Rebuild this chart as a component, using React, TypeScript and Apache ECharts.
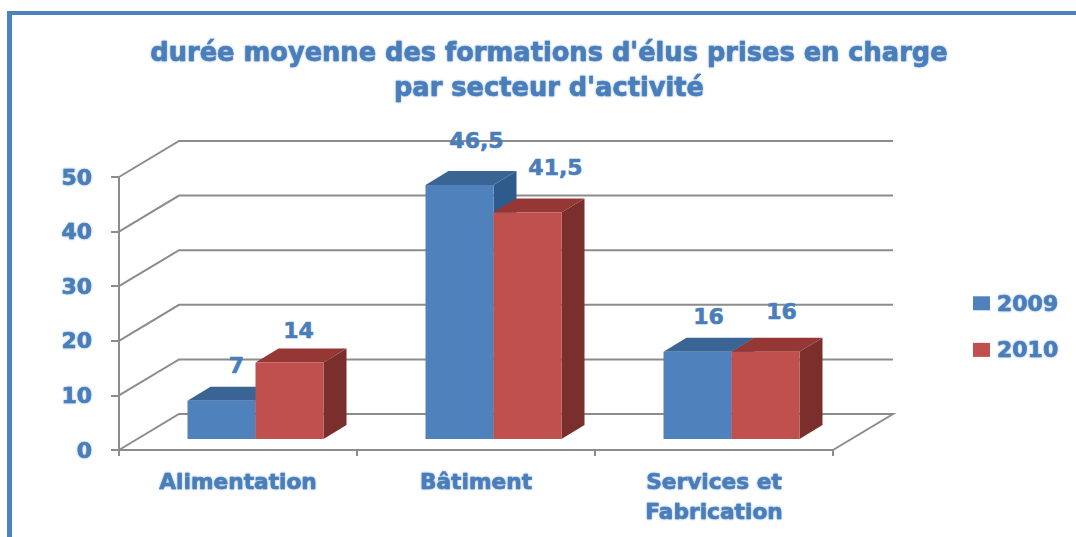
import React, { useEffect, useRef } from "react";
import * as echarts from "echarts";

const categories = ["Alimentation", "Bâtiment", "Services et\nFabrication"];
const yTicks = [0, 10, 20, 30, 40, 50];
const values2009 = [7, 46.5, 16];
const values2010 = [14, 41.5, 16];
const seriesNames = ["2009", "2010"];
const titleLines = "durée moyenne des formations d'élus prises en charge\npar secteur d'activité";

// nudges of the value labels, relative to the top of each bar
const labelNudge2009 = [[15, -35], [17, -45], [11, -35]];
const labelNudge2010 = [[9, -32], [28, -45], [16, -40]];

const BLUE_TEXT = "#4a7ebb";
const GREY = "#8c8c8c";
const FONT = "'DejaVu Sans', sans-serif";
const GRID = { left: 119, top: 177, width: 714, height: 273 };
const WALL = { dx: 60, dy: -36 };
const BAR = { width: 68, shiftX: 17.5, shiftY: -11, dx: 23, dy: -14 };
const textGlow = {
  textShadowColor: "rgba(74,126,187,0.6)",
  textShadowBlur: 2,
  textBorderColor: BLUE_TEXT,
  textBorderWidth: 0.6,
};

function wallSeries() {
  return {
    type: "custom",
    silent: true,
    z: 1,
    data: yTicks.map((v) => [0, v]),
    encode: { x: 0, y: 1 },
    renderItem: (params: any, api: any) => {
      const v = api.value(1);
      const y = api.coord([0, v])[1];
      const left = params.coordSys.x;
      const right = left + params.coordSys.width;
      const lineStyle = { stroke: GREY, lineWidth: 2, fill: "none" };
      const points =
        v === 0
          ? [[left, y], [left + WALL.dx, y + WALL.dy], [right + WALL.dx, y + WALL.dy], [right, y]]
          : [[left, y], [left + WALL.dx, y + WALL.dy], [right + WALL.dx, y + WALL.dy]];
      return { type: "polyline", shape: { points }, style: lineStyle, silent: true };
    },
  };
}

function barSeries(
  name: string,
  values: number[],
  nudges: number[][],
  side: number,
  front: string,
  top: string,
  right: string,
) {
  return {
    type: "custom",
    name,
    z: 3 + side,
    itemStyle: { color: front },
    data: values.map((v, i) => [i, v]),
    encode: { x: 0, y: 1 },
    renderItem: (_: any, api: any) => {
      const i = api.value(0);
      const v = api.value(1);
      const [cx, yTop] = api.coord([i, v]);
      const yBase = api.coord([i, 0])[1];
      const x0 = cx + BAR.shiftX + (side === 0 ? -BAR.width : 0);
      const x1 = x0 + BAR.width;
      const y0 = yTop + BAR.shiftY;
      const y1 = yBase + BAR.shiftY;
      const { dx, dy } = BAR;
      return {
        type: "group",
        children: [
          { type: "polygon", shape: { points: [[x1, y0], [x1 + dx, y0 + dy], [x1 + dx, y1 + dy], [x1, y1]] }, style: { fill: right } },
          { type: "polygon", shape: { points: [[x0, y0], [x0 + dx, y0 + dy], [x1 + dx, y0 + dy], [x1, y0]] }, style: { fill: top } },
          { type: "rect", shape: { x: x0, y: y0, width: BAR.width, height: y1 - y0 }, style: { fill: front } },
          {
            type: "text",
            z2: 50,
            x: (x0 + x1) / 2 + nudges[i][0],
            y: y0 + nudges[i][1],
            style: {
              text: String(v).replace(".", ","),
              fill: BLUE_TEXT,
              font: `bold 22px ${FONT}`,
              align: "center",
              verticalAlign: "middle",
              stroke: BLUE_TEXT,
              lineWidth: 0.6,
            },
          },
        ],
      };
    },
  };
}

export default function App() {
  const ref = useRef<HTMLDivElement>(null);
  useEffect(() => {
    document.body.style.margin = "0";
    const chart = echarts.init(ref.current!, undefined, { renderer: "svg" });
    const axisText = { color: BLUE_TEXT, fontFamily: FONT, fontWeight: "bold" as const, ...textGlow };
    chart.setOption({
      animation: false,
      backgroundColor: "#ffffff",
      title: {
        text: titleLines,
        left: 544,
        top: 29,
        textAlign: "center",
        textStyle: { ...axisText, fontSize: 25.7, lineHeight: 35 },
      },
      legend: {
        left: 968,
        top: 287,
        orient: "vertical",
        icon: "rect",
        itemWidth: 17,
        itemHeight: 14,
        itemGap: 24,
        data: seriesNames,
        textStyle: { ...axisText, fontSize: 22, padding: [0, 0, 0, 2] },
      },
      grid: GRID,
      xAxis: {
        type: "category",
        data: categories,
        axisLine: { lineStyle: { color: GREY, width: 2 } },
        axisTick: { show: true, length: 6, lineStyle: { color: GREY, width: 2 } },
        axisLabel: { ...axisText, fontSize: 21.7, margin: 16, lineHeight: 30, interval: 0 },
      },
      yAxis: {
        type: "value",
        min: 0,
        max: 50,
        interval: 10,
        splitLine: { show: false },
        axisLine: { show: true, lineStyle: { color: GREY, width: 2 } },
        axisTick: { show: true, length: 8, lineStyle: { color: GREY, width: 2 } },
        axisLabel: { ...axisText, fontSize: 22, margin: 27 },
      },
      graphic: [
        { type: "rect", shape: { x: 7, y: 11, width: 1069, height: 4 }, style: { fill: "#4f81bd" } },
        { type: "rect", shape: { x: 7, y: 11, width: 5, height: 526 }, style: { fill: "#4f81bd" } },
      ],
      series: [
        wallSeries(),
        barSeries(seriesNames[0], values2009, labelNudge2009, 0, "#4f81bd", "#3a6494", "#2f5a8c"),
        barSeries(seriesNames[1], values2010, labelNudge2010, 1, "#c0504d", "#953735", "#7a2f2d"),
      ],
    });
    return () => chart.dispose();
  }, []);
  return <div ref={ref} style={{ width: 1076, height: 537 }} />;
}
